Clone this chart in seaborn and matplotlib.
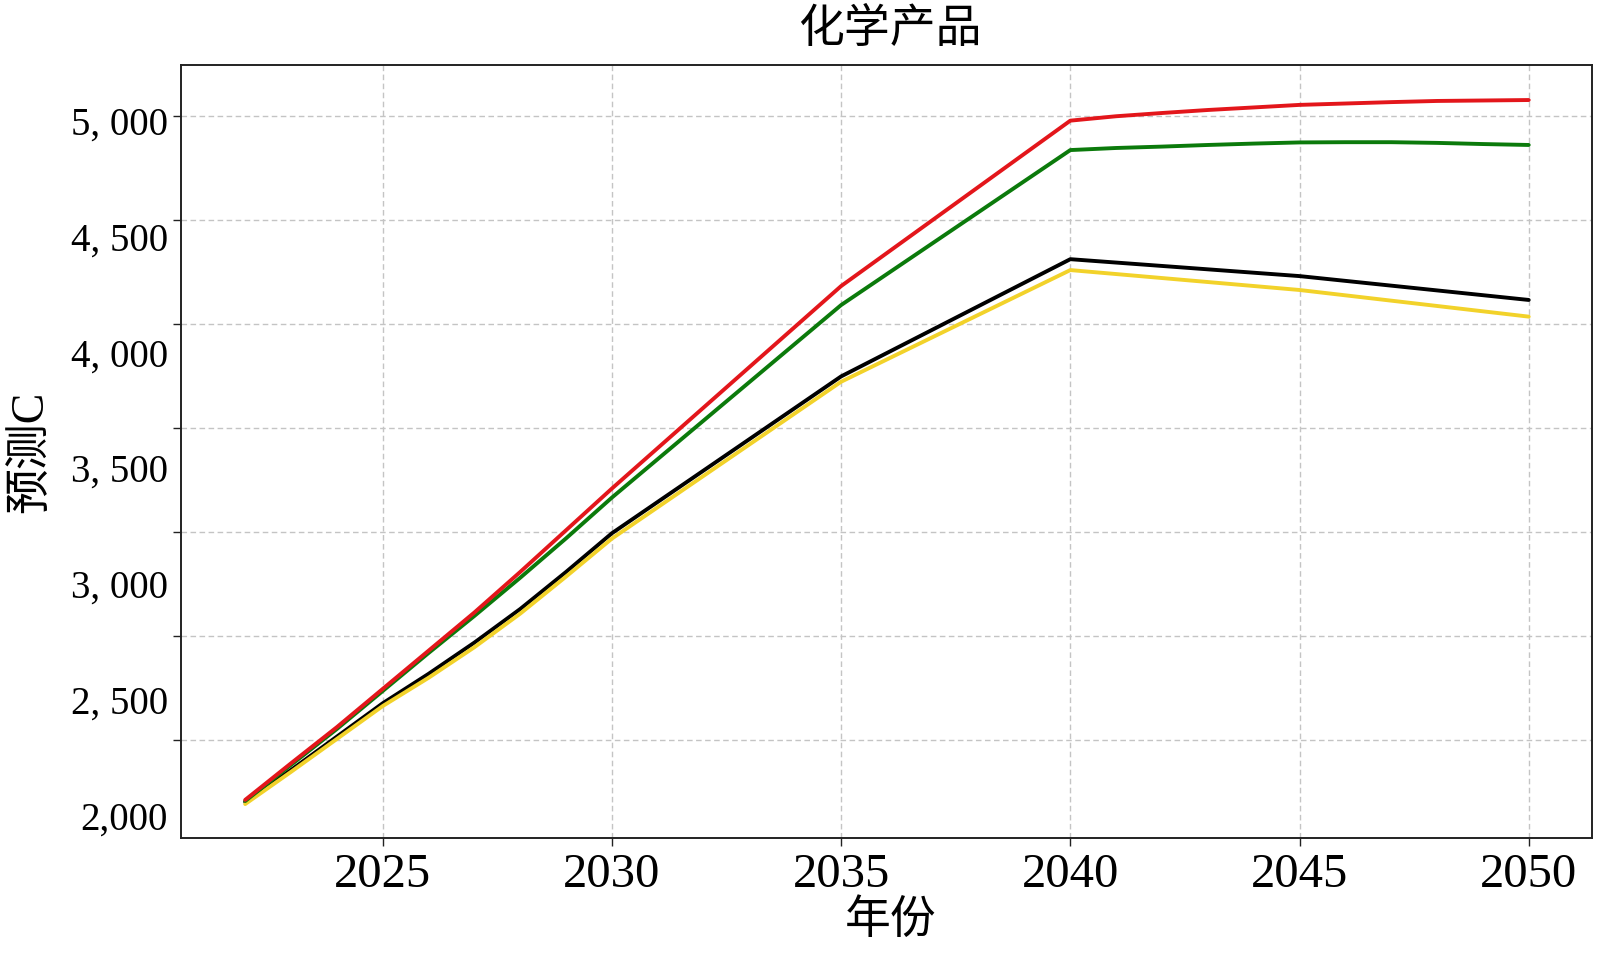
import matplotlib
matplotlib.use("Agg")
import matplotlib.pyplot as plt
import matplotlib.transforms as mtransforms
import seaborn as sns
import pandas as pd

# ---------------- data ----------------
years_fine = [2022, 2023, 2024, 2025, 2026, 2027, 2028, 2029, 2030, 2035, 2040,
              2041, 2042, 2043, 2044, 2045, 2046, 2047, 2048, 2049, 2050]
years_coarse = [2022, 2023, 2024, 2025, 2026, 2027, 2028, 2029, 2030, 2035, 2040, 2045, 2050]

red_vals = [2076, 2234, 2390, 2555, 2720, 2885, 3060, 3240, 3420, 4294, 5008,
            5027, 5041, 5054, 5065, 5076, 5082, 5088, 5093, 5095, 5097]
green_vals = [2071, 2227, 2382, 2546, 2710, 2870, 3035, 3205, 3381, 4212, 4881,
              4890, 4896, 4903, 4909, 4914, 4915, 4915, 4912, 4907, 4903]
black_vals = [2067, 2205, 2349, 2493, 2620, 2755, 2900, 3060, 3227, 3904, 4410, 4337, 4234]
yellow_vals = [2058, 2197, 2339, 2481, 2603, 2735, 2880, 3040, 3204, 3881, 4363, 4277, 4162]

series_names = ["black", "yellow", "green", "red"]
series_colors = ["#000000", "#f2d22a", "#0b7a0b", "#e3161b"]

ytick_values = [2000, 2500, 3000, 3500, 4000, 4500, 5000]
ytick_labels = ["2,000", "2, 500", "3, 000", "3, 500", "4, 000", "4, 500", "5, 000"]
grid_values = [2000, 2500, 3000, 3500, 4000, 4500, 5000]
xtick_values = [2025, 2030, 2035, 2040, 2045, 2050]
xtick_labels = ["2025", "2030", "2035", "2040", "2045", "2050"]

title_text = "化学产品"
xlabel_text = "年份"
ylabel_text = "预测C"

# ---------------- frame ----------------
rows = []
for name, yrs, vals in [("black", years_coarse, black_vals),
                        ("yellow", years_coarse, yellow_vals),
                        ("green", years_fine, green_vals),
                        ("red", years_fine, red_vals)]:
    for y, v in zip(yrs, vals):
        rows.append({"year": y, "value": v, "series": name})
df = pd.DataFrame(rows)

sns.set_theme(style="white")
plt.rcParams["font.family"] = ["Liberation Serif", "Noto Sans CJK SC", "DejaVu Sans"]
plt.rcParams["axes.unicode_minus"] = False

fig = plt.figure(figsize=(16, 9.6), dpi=100)
fig.patch.set_facecolor("white")
ax = fig.add_axes([0.113125, 0.12677, 0.881875, 0.80552])

# grid / tick-mark axis (separate scale, drawn below)
ax2 = ax.twinx()
ax2.set_ylim(1527.4, 5245.2)
ax2.yaxis.set_ticks_position("left")
ax2.set_yticks(grid_values)
ax2.tick_params(axis="y", which="major", left=True, right=False, labelleft=False,
                labelright=False, length=5.8, width=1.0, direction="out", color="#222222")
ax2.grid(axis="y", color="#c4c4c4", linestyle=(0, (4, 2.5)), linewidth=1.0)
for s in ax2.spines.values():
    s.set_visible(False)

ax.set_zorder(ax2.get_zorder() + 1)
ax.patch.set_visible(False)

sns.lineplot(data=df, x="year", y="value", hue="series", hue_order=series_names,
             palette=dict(zip(series_names, series_colors)), linewidth=2.8,
             legend=False, ax=ax, sort=True)

ax.set_xlim(2020.60, 2051.38)
ax.set_ylim(1910.2, 5248.2)

ax.set_xticks(xtick_values)
ax.set_xticklabels(xtick_labels)
ax.set_yticks(ytick_values)
ax.set_yticklabels(ytick_labels)
ax.tick_params(axis="x", length=5.8, width=1.0, direction="out", color="#222222",
               labelsize=35, pad=4.5, bottom=True, labelcolor="#000000")
ax.tick_params(axis="y", length=0, labelsize=28, pad=9.4, left=True, labelcolor="#000000")
shift = mtransforms.ScaledTranslation(0, -2.5 / 100, fig.dpi_scale_trans)
for lbl in ax.get_yticklabels():
    lbl.set_verticalalignment("center")
    lbl.set_transform(lbl.get_transform() + shift)
ax.grid(axis="x", color="#c4c4c4", linestyle=(0, (4, 2.5)), linewidth=1.0)
ax.grid(axis="y", visible=False)
ax.set_xlabel("")
ax.set_ylabel("")
for s in ax.spines.values():
    s.set_visible(True)
    s.set_color("#222222")
    s.set_linewidth(1.4)

cjk = ["Liberation Serif", "Noto Sans CJK SC", "DejaVu Sans"]
fig.text(890 / 1600, 1 - 30 / 960, title_text, ha="center", va="center",
         fontsize=33, family=cjk, color="#000000")
fig.text(891 / 1600, 1 - 922 / 960, xlabel_text, ha="center", va="center",
         fontsize=33, family=cjk, color="#000000")
fig.text(31 / 1600, 1 - 452 / 960, ylabel_text, ha="center", va="center",
         rotation=90, fontsize=33, family=cjk, color="#000000")

fig.savefig("out.png", dpi=100, facecolor="white")
